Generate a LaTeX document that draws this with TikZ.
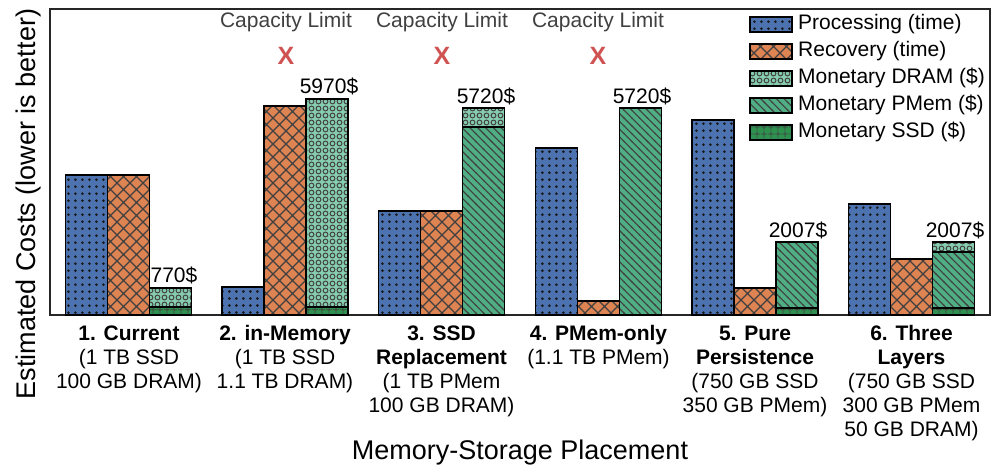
\documentclass[tikz,border=0pt]{standalone}
\usepackage{fontspec}
\setmainfont{Liberation Sans}
\usetikzlibrary{patterns}

\definecolor{procblue}{HTML}{4C72B0}
\definecolor{recorange}{HTML}{DD8452}
\definecolor{dramgreen}{HTML}{86CDB0}
\definecolor{pmemgreen}{HTML}{4FAE83}
\definecolor{ssdgreen}{HTML}{2E9150}
\definecolor{limitred}{HTML}{D05353}
\definecolor{limitgray}{HTML}{404040}

% bar textures
\pgfdeclarepatternformonly{bigdots}{\pgfqpoint{0pt}{0pt}}{\pgfqpoint{7.3pt}{7.3pt}}{\pgfqpoint{7.3pt}{7.3pt}}{
  \pgfpathcircle{\pgfqpoint{3.65pt}{3.65pt}}{1.6pt}
  \pgfusepath{fill}
}
\pgfdeclarepatternformonly{widecross}{\pgfqpoint{-1pt}{-1pt}}{\pgfqpoint{14pt}{14pt}}{\pgfqpoint{13pt}{13pt}}{
  \pgfsetlinewidth{1.1pt}
  \pgfpathmoveto{\pgfqpoint{-0.5pt}{-0.5pt}}\pgfpathlineto{\pgfqpoint{13.5pt}{13.5pt}}
  \pgfpathmoveto{\pgfqpoint{-0.5pt}{13.5pt}}\pgfpathlineto{\pgfqpoint{13.5pt}{-0.5pt}}
  \pgfusepath{stroke}
}
\pgfdeclarepatternformonly{rings}{\pgfqpoint{-1pt}{-1pt}}{\pgfqpoint{8pt}{8pt}}{\pgfqpoint{7pt}{7pt}}{
  \pgfsetlinewidth{1pt}
  \pgfpathcircle{\pgfqpoint{3.5pt}{3.5pt}}{2.4pt}
  \pgfusepath{stroke}
}
\pgfdeclarepatternformonly{backslash}{\pgfqpoint{-1pt}{-1pt}}{\pgfqpoint{8.8pt}{8.8pt}}{\pgfqpoint{7.8pt}{7.8pt}}{
  \pgfsetlinewidth{1.1pt}
  \pgfpathmoveto{\pgfqpoint{-0.5pt}{8.3pt}}\pgfpathlineto{\pgfqpoint{8.3pt}{-0.5pt}}
  \pgfusepath{stroke}
}
\pgfdeclarepatternformonly{squares}{\pgfqpoint{0pt}{0pt}}{\pgfqpoint{6.5pt}{6.5pt}}{\pgfqpoint{6.5pt}{6.5pt}}{
  \pgfsetlinewidth{0.8pt}
  \pgfpathmoveto{\pgfqpoint{0pt}{3.25pt}}\pgfpathlineto{\pgfqpoint{6.5pt}{3.25pt}}
  \pgfpathmoveto{\pgfqpoint{3.25pt}{0pt}}\pgfpathlineto{\pgfqpoint{3.25pt}{6.5pt}}
  \pgfusepath{stroke}
}

% one filled bar piece with its black edge on top
\newcommand{\barseg}[5]{
  \path[#1] (#2,#3) rectangle (#4,#5);
  \draw[outline] (#2,#3) rectangle (#4,#5);
}

\tikzset{
  outline/.style={draw=black,line width=1.5pt},
  proc/.style={preaction={fill=procblue},pattern=bigdots,pattern color=black!90},
  recov/.style={preaction={fill=recorange},pattern=widecross,pattern color=black!75},
  dram/.style={preaction={fill=dramgreen},pattern=rings,pattern color=black!75},
  pmem/.style={preaction={fill=pmemgreen},pattern=backslash,pattern color=black!75},
  ssd/.style={preaction={fill=ssdgreen},pattern=squares,pattern color=black!75},
  tick/.style={font=\fontsize{21}{24}\selectfont,align=center,inner sep=0pt},
  costlbl/.style={font=\fontsize{21}{24}\selectfont,inner sep=0pt},
  limit/.style={font=\fontsize{21}{24}\selectfont,text=limitgray,inner sep=0pt},
  cross/.style={font=\fontsize{25}{26}\selectfont\bfseries,text=limitred,inner sep=0pt},
  legtext/.style={font=\fontsize{21}{24}\selectfont,anchor=west,inner sep=0pt},
  axislbl/.style={font=\fontsize{27}{30}\selectfont,inner sep=0pt}
}

\begin{document}
\begin{tikzpicture}[x=1pt,y=-1pt]
\useasboundingbox (0,0) rectangle (993,469);

% frame
\draw[black!85,line width=1.3pt] (50,9) rectangle (990,315);

% 1. Current
\barseg{proc}{65.5}{315}{107.5}{175}
\barseg{recov}{107.5}{315}{149.5}{175}
\barseg{ssd}{149.5}{315}{191.5}{307}
\barseg{dram}{149.5}{307}{191.5}{288}
% 2. in-Memory
\barseg{proc}{222}{315}{264}{287}
\barseg{recov}{264}{315}{306}{106}
\barseg{ssd}{306}{315}{348}{307}
\barseg{dram}{306}{307}{348}{99}
% 3. SSD Replacement
\barseg{proc}{378.5}{315}{420.5}{211}
\barseg{recov}{420.5}{315}{462.5}{211}
\barseg{pmem}{462.5}{315}{504.5}{127}
\barseg{dram}{462.5}{127}{504.5}{108}
% 4. PMem-only
\barseg{proc}{535.5}{315}{577.5}{148}
\barseg{recov}{577.5}{315}{619.5}{301}
\barseg{pmem}{619.5}{315}{661.5}{108}
% 5. Pure Persistence
\barseg{proc}{692}{315}{734}{120}
\barseg{recov}{734}{315}{776}{288}
\barseg{ssd}{776}{315}{818}{308}
\barseg{pmem}{776}{308}{818}{242}
% 6. Three Layers
\barseg{proc}{848.5}{315}{890.5}{204}
\barseg{recov}{890.5}{315}{932.5}{259}
\barseg{ssd}{932.5}{315}{974.5}{308}
\barseg{pmem}{932.5}{308}{974.5}{252}
\barseg{dram}{932.5}{252}{974.5}{242}

% monetary totals
\node[costlbl] (costA) at (174,275) {770\$};
\node[costlbl] (costB) at (329,86) {5970\$};
\node[costlbl] (costC) at (486,96) {5720\$};
\node[costlbl] (costD) at (642,96) {5720\$};
\node[costlbl] (costE) at (798,230) {2007\$};
\node[costlbl] (costF) at (955,230) {2007\$};

% capacity limits
\node[limit] (limB) at (286,22) {Capacity Limit};
\node[limit] (limC) at (442,22) {Capacity Limit};
\node[limit] (limD) at (598,22) {Capacity Limit};
\node[cross] (xB) at (286,56) {X};
\node[cross] (xC) at (442,56) {X};
\node[cross] (xD) at (598,56) {X};

% legend
\barseg{proc}{750}{17}{792}{32}
\barseg{recov}{750}{44}{792}{59}
\barseg{dram}{750}{71}{792}{86}
\barseg{pmem}{750}{98}{792}{113}
\barseg{ssd}{750}{125}{792}{140}
\node[legtext] (legA) at (798,24) {Processing (time)};
\node[legtext] (legB) at (798,51) {Recovery (time)};
\node[legtext] (legC) at (798,78) {Monetary DRAM (\$)};
\node[legtext] (legD) at (798,105) {Monetary PMem (\$)};
\node[legtext] (legE) at (798,132) {Monetary SSD (\$)};

% group labels
\node[tick,anchor=north] (grpA) at (129,325.5) {\textbf{1. Current}\\(1 TB SSD\\100 GB DRAM)};
\node[tick,anchor=north] (grpB) at (285,325.5) {\textbf{2. in-Memory}\\(1 TB SSD\\1.1 TB DRAM)};
\node[tick,anchor=north] (grpC) at (441.5,325.5) {\textbf{3. SSD}\\\textbf{Replacement}\\(1 TB PMem\\100 GB DRAM)};
\node[tick,anchor=north] (grpD) at (598.5,325.5) {\textbf{4. PMem-only}\\(1.1 TB PMem)};
\node[tick,anchor=north] (grpE) at (755,325.5) {\textbf{5. Pure}\\\textbf{Persistence}\\(750 GB SSD\\350 GB PMem)};
\node[tick,anchor=north] (grpF) at (911.5,325.5) {\textbf{6. Three}\\\textbf{Layers}\\(750 GB SSD\\300 GB PMem\\50 GB DRAM)};

% axis titles
\node[axislbl,rotate=90] (ytitle) at (29,204) {Estimated Costs (lower is better)};
\node[axislbl] (xtitle) at (520,453) {Memory-Storage Placement};
\end{tikzpicture}
\end{document}
